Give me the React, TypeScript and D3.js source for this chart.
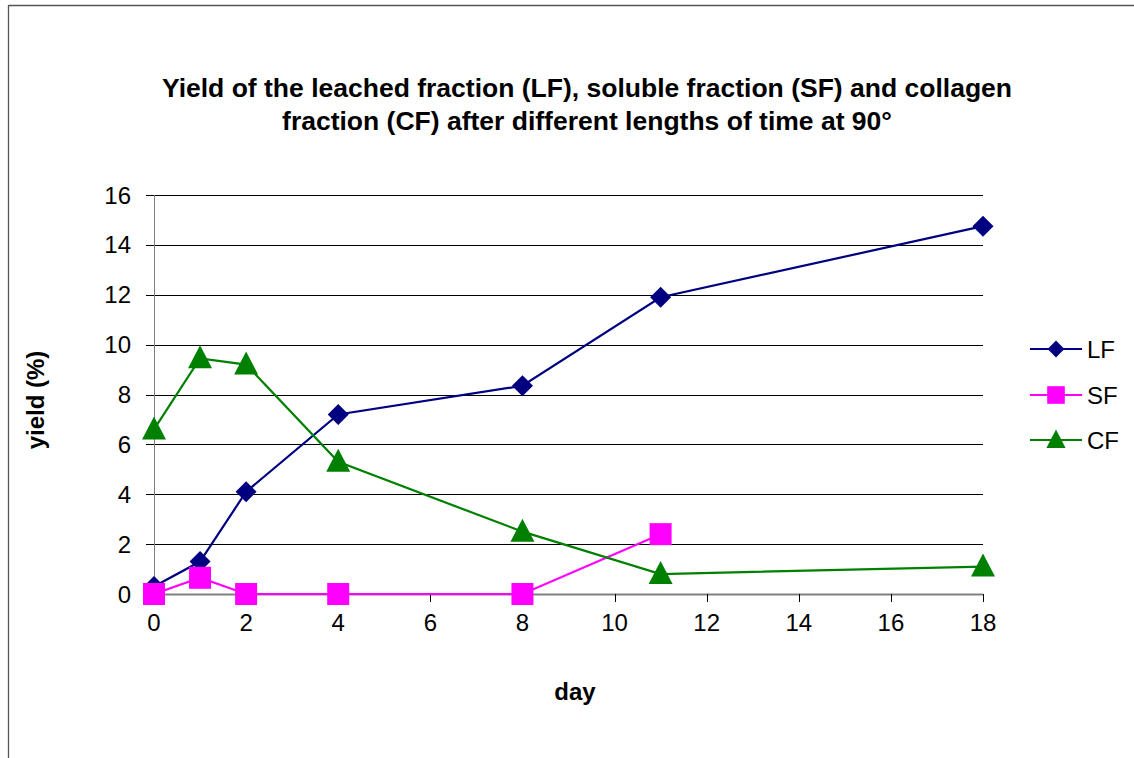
import React, { useEffect, useRef } from "react";
import * as d3 from "d3";

const days = [0, 1, 2, 4, 8, 11, 18];
const lfValues = [0.3, 1.3, 4.1, 7.2, 8.35, 11.9, 14.75];
const sfDays = [0, 1, 2, 4, 8, 11];
const sfValues = [0, 0.65, 0, 0, 0, 2.4];
const cfValues = [6.6, 9.45, 9.2, 5.3, 2.5, 0.8, 1.1];
const xTicks = [0, 2, 4, 6, 8, 10, 12, 14, 16, 18];
const yTicks = [0, 2, 4, 6, 8, 10, 12, 14, 16];
const titleLines = [
  "Yield of the leached fraction (LF), soluble fraction (SF) and collagen",
  "fraction (CF) after different lengths of time at 90°",
];

type Series = { name: string; xs: number[]; ys: number[]; color: string; marker: "diamond" | "square" | "triangle" };
const seriesList: Series[] = [
  { name: "LF", xs: days, ys: lfValues, color: "#000080", marker: "diamond" },
  { name: "SF", xs: sfDays, ys: sfValues, color: "#FF00FF", marker: "square" },
  { name: "CF", xs: days, ys: cfValues, color: "#008000", marker: "triangle" },
];

export default function App() {
  const ref = useRef<SVGSVGElement>(null);
  useEffect(() => {
    const svg = d3.select(ref.current);
    svg.selectAll("*").remove();
    const font = "'Liberation Sans', Arial, sans-serif";
    const x = d3.scaleLinear().domain([0, 18]).range([154, 983]);
    const y = d3.scaleLinear().domain([0, 16]).range([594, 195]);

    svg.append("rect").attr("x", 0).attr("y", 0).attr("width", 1134).attr("height", 758).attr("fill", "#fff");
    // outer frame (top and left edges visible)
    svg.append("line").attr("x1", 8.5).attr("x2", 1134).attr("y1", 5.5).attr("y2", 5.5).attr("stroke", "#555").attr("stroke-width", 1.3);
    svg.append("line").attr("x1", 8.5).attr("x2", 8.5).attr("y1", 5).attr("y2", 758).attr("stroke", "#555").attr("stroke-width", 1.3);

    // title
    svg.append("text")
      .attr("font-family", font).attr("font-size", 26.5).attr("font-weight", "bold")
      .attr("text-anchor", "middle")
      .selectAll("tspan").data(titleLines).join("tspan")
      .attr("x", 587).attr("y", (_d, i) => 97 + i * 33).text((d) => d);

    // gridlines
    svg.append("g").selectAll("line").data(yTicks.filter((t) => t > 0)).join("line")
      .attr("x1", 146).attr("x2", 983)
      .attr("y1", (d) => Math.round(y(d)) + 0.5).attr("y2", (d) => Math.round(y(d)) + 0.5)
      .attr("stroke", "#000").attr("stroke-width", 1);

    // y axis
    svg.append("line").attr("x1", 154.5).attr("x2", 154.5).attr("y1", 195).attr("y2", 594)
      .attr("stroke", "#808080").attr("stroke-width", 1);
    svg.append("line").attr("x1", 146).attr("x2", 154).attr("y1", 594.5).attr("y2", 594.5).attr("stroke", "#808080");
    // x axis
    svg.append("line").attr("x1", 154).attr("x2", 983).attr("y1", 594.5).attr("y2", 594.5)
      .attr("stroke", "#808080").attr("stroke-width", 2);
    svg.append("g").selectAll("line").data(xTicks).join("line")
      .attr("x1", (d) => Math.round(x(d)) + 0.5).attr("x2", (d) => Math.round(x(d)) + 0.5)
      .attr("y1", 594).attr("y2", 602).attr("stroke", "#000");

    // tick labels
    svg.append("g").selectAll("text").data(yTicks).join("text")
      .attr("x", 131).attr("y", (d) => y(d) + 8.5).attr("text-anchor", "end")
      .attr("font-family", font).attr("font-size", 24).text((d) => d);
    svg.append("g").selectAll("text").data(xTicks).join("text")
      .attr("x", (d) => x(d)).attr("y", 631).attr("text-anchor", "middle")
      .attr("font-family", font).attr("font-size", 24).text((d) => d);

    // axis titles
    svg.append("text").attr("x", 575).attr("y", 700).attr("text-anchor", "middle")
      .attr("font-family", font).attr("font-size", 24).attr("font-weight", "bold").text("day");
    svg.append("text").attr("transform", "translate(44,400) rotate(-90)").attr("text-anchor", "middle")
      .attr("font-family", font).attr("font-size", 24).attr("font-weight", "bold").text("yield (%)");

    const drawMarker = (g: any, cx: number, cy: number, s: Series, scale: number) => {
      if (s.marker === "diamond") {
        const r = 10.5 * scale;
        g.append("path").attr("d", `M${cx},${cy - r} L${cx + r},${cy} L${cx},${cy + r} L${cx - r},${cy} Z`).attr("fill", s.color);
      } else if (s.marker === "square") {
        const h = 11 * scale;
        g.append("rect").attr("x", cx - h).attr("y", cy - h).attr("width", 2 * h).attr("height", 2 * h).attr("fill", s.color);
      } else {
        const w = 12 * scale;
        g.append("path").attr("d", `M${cx},${cy - 13 * scale} L${cx + w},${cy + 10 * scale} L${cx - w},${cy + 10 * scale} Z`).attr("fill", s.color);
      }
    };

    const line = d3.line<[number, number]>().x((d) => x(d[0])).y((d) => y(d[1]));
    for (const s of seriesList) {
      const pts: [number, number][] = s.xs.map((d, i) => [d, s.ys[i]]);
      const g = svg.append("g");
      g.append("path").attr("d", line(pts)).attr("fill", "none").attr("stroke", s.color).attr("stroke-width", 2.2);
      for (const p of pts) drawMarker(g, x(p[0]), y(p[1]), s, 1);
    }

    // legend
    const legendY = [349, 395, 440];
    seriesList.forEach((s, i) => {
      const g = svg.append("g");
      g.append("line").attr("x1", 1030).attr("x2", 1082).attr("y1", legendY[i]).attr("y2", legendY[i])
        .attr("stroke", s.color).attr("stroke-width", 2.2);
      drawMarker(g, 1056, legendY[i], s, 0.8);
      g.append("text").attr("x", 1087).attr("y", legendY[i] + 9).attr("font-family", font).attr("font-size", 24).text(s.name);
    });
  }, []);
  return <svg ref={ref} width={1134} height={758} style={{ display: "block", position: "absolute", left: 0, top: 0 }} />;
}
